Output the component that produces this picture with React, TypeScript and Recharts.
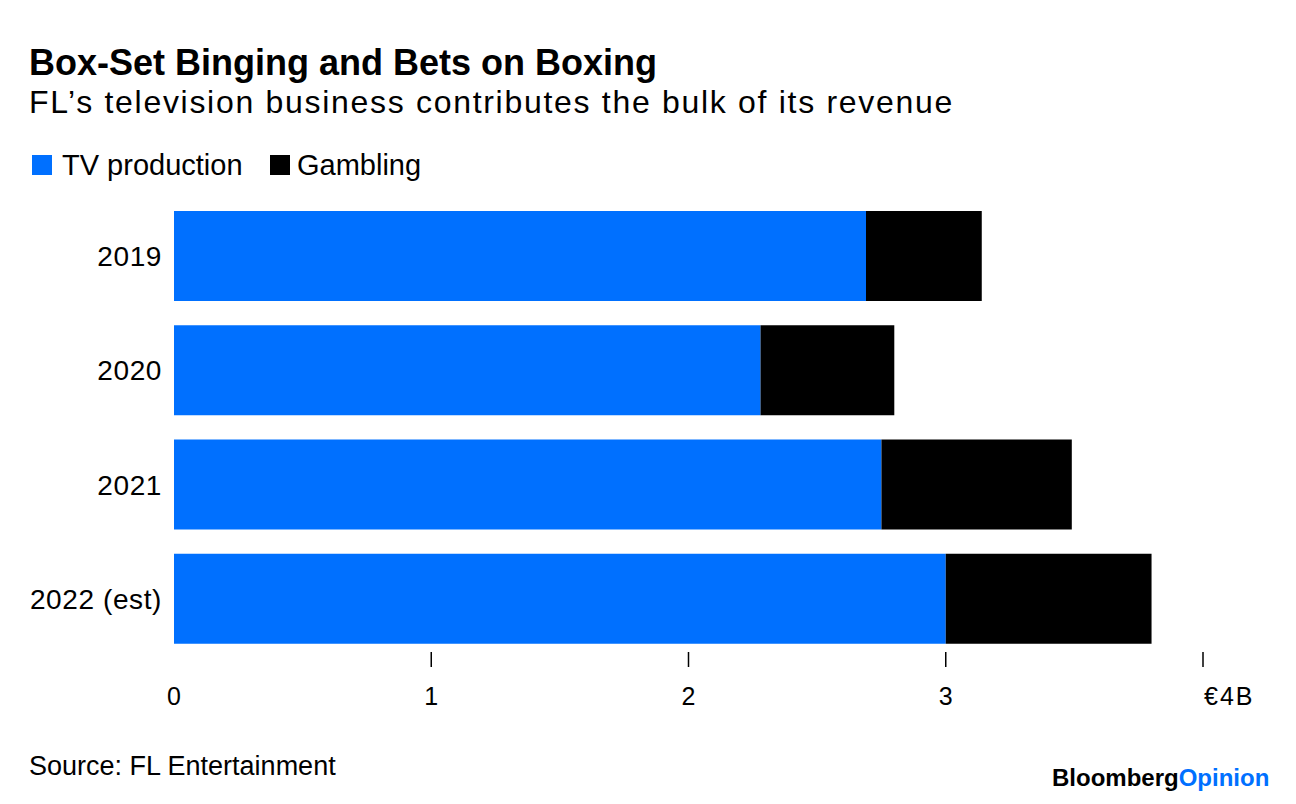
import React from "react";
import { BarChart, Bar, XAxis, YAxis } from "recharts";

const categories = ["2019", "2020", "2021", "2022 (est)"];
const tvProduction = [2.69, 2.28, 2.75, 3.0];
const gambling = [0.45, 0.52, 0.74, 0.8];
const xTicks = [0, 1, 2, 3, 4];
const xTickLabels = ["0", "1", "2", "3", "€4B"];

const data = categories.map((c, i) => ({ year: c, tv: tvProduction[i], gambling: gambling[i] }));

const FONT = "'Liberation Sans', Arial, Helvetica, sans-serif";
const BLUE = "#0070FF";

const XTick = (props: any) => {
  const { x, y, payload } = props;
  const idx = xTicks.indexOf(payload.value);
  const isLast = idx === xTicks.length - 1;
  return (
    <g>
      {payload.value > 0 && <line x1={x} x2={x} y1={y - 4} y2={y + 11} stroke="#000" strokeWidth={1.5} />}
      <text
        x={isLast ? x + 1 : x}
        y={y + 49}
        textAnchor={isLast ? "start" : "middle"}
        fontSize={25}
        fontFamily={FONT}
        fill="#000"
        letterSpacing={isLast ? 2 : 0}
      >
        {xTickLabels[idx]}
      </text>
    </g>
  );
};

export default function App() {
  return (
    <div style={{ position: "absolute", left: 0, top: 0, width: 1296, height: 804, background: "#fff", fontFamily: FONT, lineHeight: "normal" }}>
      <div style={{ position: "absolute", left: 29, top: 42, fontSize: 36, fontWeight: 700, color: "#000", whiteSpace: "nowrap" }}>
        Box-Set Binging and Bets on Boxing
      </div>
      <div style={{ position: "absolute", left: 29, top: 84, fontSize: 32, color: "#000", whiteSpace: "nowrap", letterSpacing: 1.7 }}>
        FL’s television business contributes the bulk of its revenue
      </div>
      <div style={{ position: "absolute", left: 32, top: 155, width: 20, height: 20, background: BLUE }} />
      <div style={{ position: "absolute", left: 62, top: 149, fontSize: 29, color: "#000", whiteSpace: "nowrap" }}>
        TV production
      </div>
      <div style={{ position: "absolute", left: 270, top: 155, width: 20, height: 20, background: "#000" }} />
      <div style={{ position: "absolute", left: 297, top: 149, fontSize: 29, color: "#000", whiteSpace: "nowrap" }}>
        Gambling
      </div>
      <div style={{ position: "absolute", left: 0, top: 0 }}>
        <BarChart
          width={1296}
          height={804}
          data={data}
          layout="vertical"
          margin={{ top: 199, right: 93, bottom: 98, left: 0 }}
          barSize={90}
        >
          <XAxis
            type="number"
            domain={[0, 4]}
            ticks={xTicks}
            tickSize={0}
            tickMargin={0}
            axisLine={false}
            tickLine={false}
            height={50}
            tick={<XTick />}
            interval={0}
          />
          <YAxis
            type="category"
            dataKey="year"
            width={174}
            axisLine={false}
            tickLine={false}
            tickSize={0}
            tickMargin={12}
            tick={{ fontSize: 28, fill: "#000", fontFamily: FONT, letterSpacing: 0.6 }}
          />
          <Bar dataKey="tv" stackId="a" fill={BLUE} isAnimationActive={false} />
          <Bar dataKey="gambling" stackId="a" fill="#000" isAnimationActive={false} />
        </BarChart>
      </div>
      <div style={{ position: "absolute", left: 29, top: 751, fontSize: 27, color: "#000", whiteSpace: "nowrap" }}>
        Source: FL Entertainment
      </div>
      <div style={{ position: "absolute", left: 1052, top: 764, fontSize: 24, fontWeight: 700, whiteSpace: "nowrap" }}>
        <span style={{ color: "#000" }}>Bloomberg</span>
        <span style={{ color: BLUE }}>Opinion</span>
      </div>
    </div>
  );
}
